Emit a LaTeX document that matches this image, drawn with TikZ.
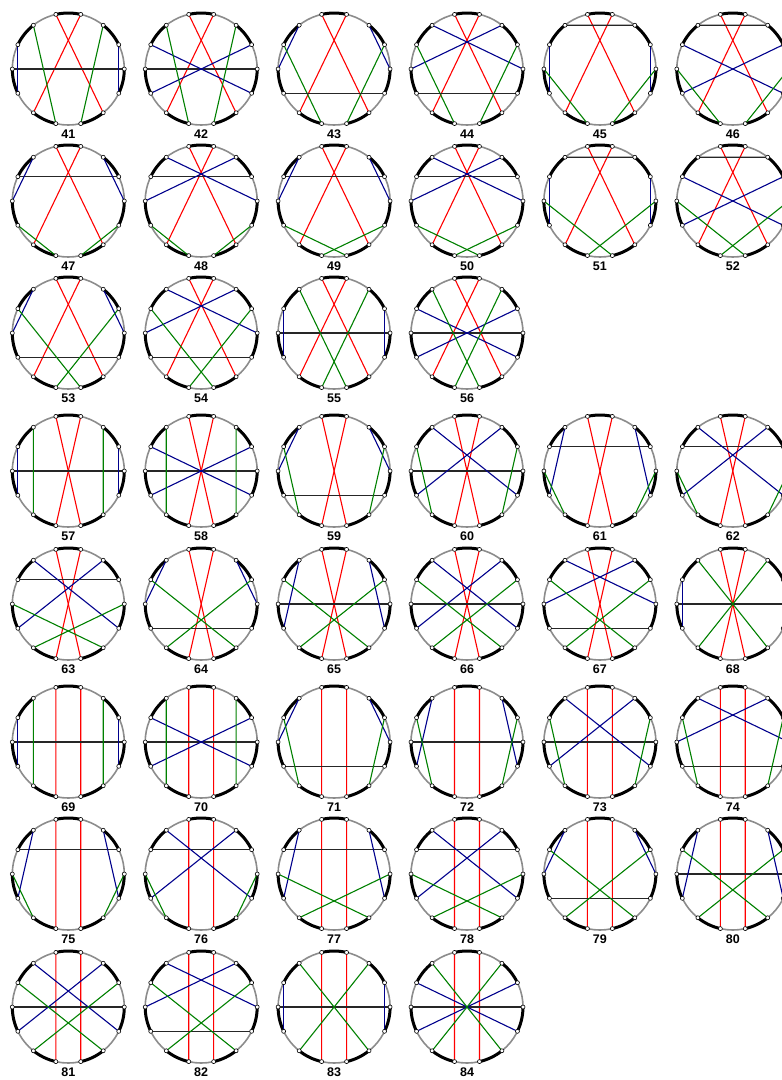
\documentclass[tikz,border=0pt]{standalone}
\usepackage{fontspec}
\setmainfont{Liberation Sans}
\definecolor{rimgray}{RGB}{140,140,140}
\definecolor{chordblue}{RGB}{0,0,140}
\definecolor{chordgreen}{RGB}{0,128,0}
\tikzset{
  rim/.style={draw=rimgray, line width=1.6pt},
  thickarc/.style={draw=black, line width=3pt},
  chR/.style={draw=red, line width=1.1pt},
  chG/.style={draw=chordgreen, line width=1.1pt},
  chB/.style={draw=chordblue, line width=1.1pt},
  chK/.style={draw=black!85, line width=1.1pt},
  vtx/.style={circle, draw=black, fill=white, line width=0.6pt, inner sep=0pt, minimum size=4pt},
  lab/.style={font=\fontsize{12.5}{15}\selectfont\bfseries, inner sep=0pt}
}
\newcommand{\cdiag}[4]{%
\begin{scope}[shift={(#2pt,-#3pt)}]
  \draw[rim] (0pt,0pt) circle[radius=56pt];
  \foreach \k in {0,...,13} \coordinate (p#1-\k) at ({\k*360/14}:56pt);
  \foreach \k in {1,3,...,13} \draw[thickarc] ({\k*360/14}:56pt) arc[start angle={\k*360/14}, end angle={(\k+1)*360/14}, radius=56pt];
  \foreach \a/\b/\c in {#4} \draw[\c] (p#1-\a) -- (p#1-\b);
  \foreach \k in {0,...,13} \node[vtx] (v#1-\k) at (p#1-\k) {};
  \node[lab] (n#1) at (0pt,-65pt) {#1};
\end{scope}}
\newcommand{\diagA}[4]{\cdiag{#1}{#2}{#3}{4/12/chR,3/9/chR,#4}}
\newcommand{\diagB}[4]{\cdiag{#1}{#2}{#3}{4/11/chR,3/10/chR,#4}}
\newcommand{\diagC}[4]{\cdiag{#1}{#2}{#3}{4/10/chR,3/11/chR,#4}}
\begin{document}
\begin{tikzpicture}
\useasboundingbox (0pt,0pt) rectangle (782pt,-1080pt);
\clip (0pt,0pt) rectangle (782pt,-1080pt);
% row 1
\diagA{41}{68.3}{69}{7/0/chK,6/8/chB,1/13/chB,5/10/chG,2/11/chG}
\diagA{42}{201.2}{69}{7/0/chK,6/13/chB,1/8/chB,5/10/chG,2/11/chG}
\diagA{43}{334.1}{69}{5/7/chB,2/0/chB,6/10/chG,1/11/chG,8/13/chK}
\diagA{44}{467}{69}{5/0/chB,2/7/chB,6/10/chG,1/11/chG,8/13/chK}
\diagA{45}{599.9}{69}{5/2/chK,6/8/chB,1/13/chB,7/10/chG,0/11/chG}
\diagA{46}{732.8}{69}{5/2/chK,6/13/chB,8/1/chB,7/10/chG,11/0/chG}
% row 2
\diagA{47}{68.3}{201}{6/1/chK,5/7/chB,2/0/chB,8/10/chG,13/11/chG}
\diagA{48}{201.2}{201}{6/1/chK,5/0/chB,2/7/chB,8/10/chG,13/11/chG}
\diagA{49}{334.1}{201}{6/1/chK,5/7/chB,2/0/chB,8/11/chG,13/10/chG}
\diagA{50}{467}{201}{6/1/chK,5/0/chB,2/7/chB,8/11/chG,13/10/chG}
\diagA{51}{599.9}{201}{5/2/chK,6/8/chB,1/13/chB,7/11/chG,0/10/chG}
\diagA{52}{732.8}{201}{5/2/chK,6/13/chB,8/1/chB,7/11/chG,10/0/chG}
% row 3
\diagA{53}{68.3}{333}{8/13/chK,5/7/chB,2/0/chB,6/11/chG,1/10/chG}
\diagA{54}{201.2}{333}{8/13/chK,5/0/chB,2/7/chB,6/11/chG,1/10/chG}
\diagA{55}{334.1}{333}{7/0/chK,6/8/chB,1/13/chB,5/11/chG,2/10/chG}
\diagA{56}{467}{333}{7/0/chK,6/13/chB,1/8/chB,5/11/chG,2/10/chG}
% row 4
\diagB{57}{68.3}{471}{7/0/chK,6/8/chB,1/13/chB,5/9/chG,2/12/chG}
\diagB{58}{201.2}{471}{7/0/chK,6/13/chB,1/8/chB,5/9/chG,2/12/chG}
\diagB{59}{334.1}{471}{8/13/chK,5/7/chB,2/0/chB,6/9/chG,1/12/chG}
\diagB{60}{467}{471}{7/0/chK,5/13/chB,2/8/chB,6/9/chG,1/12/chG}
\diagB{61}{599.9}{471}{6/1/chK,5/8/chB,2/13/chB,7/9/chG,0/12/chG}
\diagB{62}{732.8}{471}{6/1/chK,5/13/chB,2/8/chB,7/9/chG,12/0/chG}
% row 5
\diagB{63}{68.3}{604}{6/1/chK,5/13/chB,2/8/chB,7/12/chG,0/9/chG}
\diagB{64}{201.2}{604}{8/13/chK,5/7/chB,2/0/chB,6/12/chG,1/9/chG}
\diagB{65}{334.1}{604}{7/0/chK,5/8/chB,2/13/chB,6/12/chG,1/9/chG}
\diagB{66}{467}{604}{7/0/chK,5/13/chB,2/8/chB,6/12/chG,1/9/chG}
\diagB{67}{599.9}{604}{8/13/chK,5/0/chB,2/7/chB,6/12/chG,1/9/chG}
\diagB{68}{732.8}{604}{7/0/chK,6/8/chB,1/13/chB,5/12/chG,2/9/chG}
% row 6
\diagC{69}{68.3}{742}{7/0/chK,6/8/chB,1/13/chB,5/9/chG,2/12/chG}
\diagC{70}{201.2}{742}{7/0/chK,6/13/chB,1/8/chB,5/9/chG,2/12/chG}
\diagC{71}{334.1}{742}{8/13/chK,5/7/chB,2/0/chB,6/9/chG,1/12/chG}
\diagC{72}{467}{742}{7/0/chK,5/8/chB,2/13/chB,6/9/chG,1/12/chG}
\diagC{73}{599.9}{742}{7/0/chK,5/13/chB,2/8/chB,6/9/chG,1/12/chG}
\diagC{74}{732.8}{742}{8/13/chK,5/0/chB,2/7/chB,6/9/chG,1/12/chG}
% row 7
\diagC{75}{68.3}{874}{6/1/chK,5/8/chB,2/13/chB,7/9/chG,0/12/chG}
\diagC{76}{201.2}{874}{6/1/chK,5/13/chB,2/8/chB,7/9/chG,12/0/chG}
\diagC{77}{334.1}{874}{6/1/chK,5/8/chB,2/13/chB,7/12/chG,0/9/chG}
\diagC{78}{467}{874}{6/1/chK,5/13/chB,2/8/chB,7/12/chG,0/9/chG}
\diagC{79}{599.9}{874}{8/13/chK,5/7/chB,2/0/chB,6/12/chG,1/9/chG}
\diagC{80}{732.8}{874}{7/0/chK,5/8/chB,2/13/chB,6/12/chG,1/9/chG}
% row 8
\diagC{81}{68.3}{1007}{7/0/chK,5/13/chB,2/8/chB,6/12/chG,1/9/chG}
\diagC{82}{201.2}{1007}{8/13/chK,5/0/chB,2/7/chB,6/12/chG,1/9/chG}
\diagC{83}{334.1}{1007}{7/0/chK,6/8/chB,1/13/chB,5/12/chG,2/9/chG}
\diagC{84}{467}{1007}{7/0/chK,6/13/chB,1/8/chB,5/12/chG,2/9/chG}
\end{tikzpicture}
\end{document}
